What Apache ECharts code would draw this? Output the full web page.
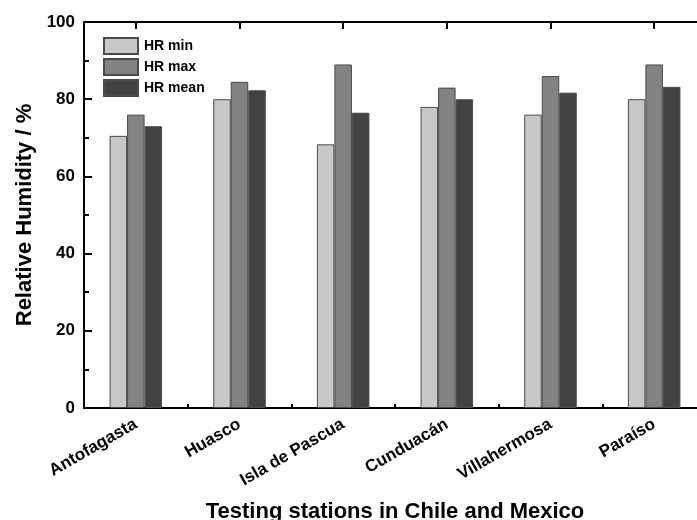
<!DOCTYPE html>
<html>
<head>
<meta charset="utf-8">
<script src="https://cdn.jsdelivr.net/npm/echarts@6/dist/echarts.min.js"></script>
<style>
  html, body { margin: 0; padding: 0; background: #fff; overflow: hidden; }
  /* the frame's right edge runs just past the visible area */
  #chart { width: 720px; height: 520px; }
</style>
</head>
<body>
<div id="chart"></div>
<script>
// Testing stations (Chile and Mexico)
const stations = ['Antofagasta', 'Huasco', 'Isla de Pascua', 'Cunduacán', 'Villahermosa', 'Paraíso'];
// Relative humidity per station, %
const hrMin  = [70.5, 80.0, 68.3, 78.0, 76.0, 80.0];
const hrMax  = [76.0, 84.5, 89.0, 83.0, 86.0, 89.0];
const hrMean = [73.0, 82.3, 76.5, 80.0, 81.7, 83.2];
const yTicks = [0, 20, 40, 60, 80, 100];

const FONT = '"Liberation Sans", Arial, sans-serif';
const AX = { color: '#000', width: 2 };

function barSeries(name, data, color) {
  return {
    name, type: 'bar', data,
    xAxisIndex: 0, yAxisIndex: 0,
    barWidth: 17.5, barGap: '0%',
    itemStyle: { color, borderColor: '#4a4a4a', borderWidth: 1 }
  };
}

const chart = echarts.init(document.getElementById('chart'), null, { renderer: 'canvas' });
chart.setOption({
  animation: false,
  backgroundColor: '#fff',
  textStyle: { fontFamily: FONT },
  grid: { left: 84, top: 22, width: 622, height: 386, containLabel: false, outerBoundsMode: 'none' },
  legend: {
    left: 103, top: 37, orient: 'vertical', padding: 0,
    icon: 'rect',
    itemWidth: 34, itemHeight: 16, itemGap: 3,
    textStyle: { fontFamily: FONT, fontWeight: 'bold', fontSize: 14, color: '#000', padding: [0, 0, 0, 1] },
    data: ['HR min', 'HR max', 'HR mean']
  },
  xAxis: [
    {
      type: 'category', data: stations, position: 'bottom',
      name: 'Testing stations in Chile and Mexico',
      nameLocation: 'middle', nameGap: 93,
      nameTextStyle: { fontFamily: FONT, fontWeight: 'bold', fontSize: 22, color: '#000' },
      axisLine: { lineStyle: AX },
      axisTick: { show: true, inside: true, alignWithLabel: true, length: 7, lineStyle: AX },
      axisLabel: { rotate: 30, margin: 15, fontFamily: FONT, fontWeight: 'bold', fontSize: 17, color: '#000' },
      splitLine: { show: false }
    },
    {
      // boundary ticks between stations
      type: 'category', data: stations, position: 'bottom', gridIndex: 0,
      axisLine: { show: false },
      axisTick: { show: true, inside: true, length: 4, lineStyle: AX },
      axisLabel: { show: false }, splitLine: { show: false }
    },
    {
      type: 'category', data: stations, position: 'top',
      axisLine: { lineStyle: AX },
      axisTick: { show: true, inside: true, alignWithLabel: true, length: 7, lineStyle: AX },
      axisLabel: { show: false }, splitLine: { show: false }
    }
  ],
  yAxis: [
    {
      type: 'value', min: yTicks[0], max: yTicks[yTicks.length - 1], interval: 20,
      name: 'Relative Humidity / %', nameLocation: 'middle', nameGap: 48,
      nameTextStyle: { fontFamily: FONT, fontWeight: 'bold', fontSize: 22, color: '#000' },
      axisLine: { show: true, lineStyle: AX },
      axisTick: { show: true, inside: true, length: 8, lineStyle: AX },
      minorTick: { show: true, splitNumber: 2, length: 5, lineStyle: { color: '#000', width: 2 } },
      axisLabel: { margin: 9, fontFamily: FONT, fontWeight: 'bold', fontSize: 17, color: '#000' },
      splitLine: { show: false }
    },
    {
      type: 'value', min: yTicks[0], max: yTicks[yTicks.length - 1], interval: 20, position: 'right',
      axisLine: { show: true, lineStyle: AX },
      axisTick: { show: true, inside: true, length: 8, lineStyle: AX },
      minorTick: { show: true, splitNumber: 2, length: 5, lineStyle: { color: '#000', width: 2 } },
      axisLabel: { show: false }, splitLine: { show: false }
    }
  ],
  series: [
    barSeries('HR min', hrMin, '#c8c8c8'),
    barSeries('HR max', hrMax, '#838383'),
    barSeries('HR mean', hrMean, '#424242')
  ]
});
</script>
</body>
</html>
